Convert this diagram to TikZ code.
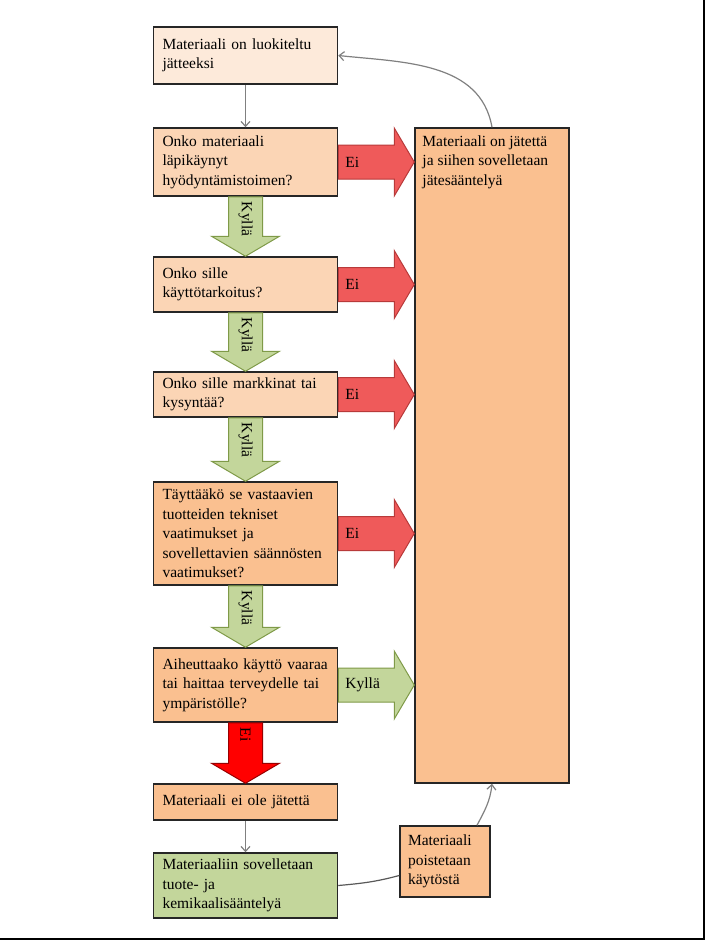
\documentclass[tikz,border=0pt]{standalone}
\usepackage{fontspec}
\setmainfont{Liberation Serif}
\usetikzlibrary{arrows.meta,calc}

\definecolor{persikka1}{HTML}{FDEADA}
\definecolor{persikka2}{HTML}{FBD5B5}
\definecolor{persikka3}{HTML}{FAC090}
\definecolor{vihrea}{HTML}{C3D69B}
\definecolor{vihreareuna}{HTML}{7F9A48}
\definecolor{punainen}{HTML}{EF5A5A}
\definecolor{punareuna}{HTML}{B83A3A}

\newcommand{\laatikkofontti}{\fontsize{15.5}{19.5}\selectfont}

% vaakanuoli: tyyli, lahto, kohde, teksti
\newcommand{\vaakanuoli}[4]{%
	\path (#2.east) coordinate (n0) (#3.west |- #2.east) coordinate (n1);
	\draw[#1] ([yshift=17pt]n0) -- ([xshift=-20pt,yshift=17pt]n1)
	-- ([xshift=-20pt,yshift=34pt]n1) -- (n1)
	-- ([xshift=-20pt,yshift=-34pt]n1) -- ([xshift=-20pt,yshift=-17pt]n1)
	-- ([yshift=-17pt]n0) -- cycle;
	\node[nuoliteksti, anchor=west] at ([xshift=7pt]n0) {#4};}

% pystynuoli: tyyli, lahto, kohde, teksti
\newcommand{\pystynuoli}[4]{%
	\path (#2.south) coordinate (n0) (#3.north) coordinate (n1);
	\draw[#1] ([xshift=-17pt]n0) -- ([xshift=-17pt,yshift=20pt]n1)
	-- ([xshift=-34pt,yshift=20pt]n1) -- (n1)
	-- ([xshift=34pt,yshift=20pt]n1) -- ([xshift=17pt,yshift=20pt]n1)
	-- ([xshift=17pt]n0) -- cycle;
	\node[nuoliteksti, rotate=-90, anchor=west] at ([yshift=-5pt]n0) {#4};}

\begin{document}
\begin{tikzpicture}[
			x=1pt, y=1pt,
			laatikko/.style={draw=black!85, line width=1.5pt,
				minimum width=184pt, text width=166pt,
				inner xsep=9pt, inner ysep=3pt, align=left,
				font=\laatikkofontti},
			nuoliteksti/.style={inner sep=0pt, font=\laatikkofontti},
			kylla/.style={fill=vihrea, draw=vihreareuna, line width=1pt},
			einuoli/.style={fill=punainen, draw=punareuna, line width=1pt},
			einuolipysty/.style={fill=red, draw=red!60!black, line width=1pt},
			ohut/.style={draw=gray, line width=1.2pt,
				-{Straight Barb[length=5pt,width=9pt]}},
			ohutviiva/.style={draw=gray!70!black, line width=1.2pt},
			kehys/.style={line width=2pt, black},
			]
			\useasboundingbox (0,0) rectangle (705,-940);
			
			% kehys
			\draw[kehys] (704,0) -- (704,-939) -- (0,-939);
			
			% vasen sarake
			\node[laatikko, fill=persikka1, minimum height=57pt] (luokiteltu)
			at (245.5,-55.5) {Materiaali on luokiteltu\\jätteeksi};
			\node[laatikko, fill=persikka2, minimum height=68pt] (hyodynt)
			at (245.5,-162) {Onko materiaali\\läpikäynyt\\hyödyntämistoimen?};
			\node[laatikko, fill=persikka2, minimum height=55pt] (kaytto)
			at (245.5,-284.5) {Onko sille\\käyttötarkoitus?};
			\node[laatikko, fill=persikka2, minimum height=45pt] (markkinat)
			at (245.5,-394.5) {Onko sille markkinat tai\\kysyntää?};
			\node[laatikko, fill=persikka3, minimum height=103pt] (tekniset)
			at (245.5,-533.5) {Täyttääkö se vastaavien\\tuotteiden tekniset\\vaatimukset ja\\sovellettavien säännösten\\vaatimukset?};
			\node[laatikko, fill=persikka3, minimum height=74pt] (vaara)
			at (245.5,-685) {Aiheuttaako käyttö vaaraa\\tai haittaa terveydelle tai\\ympäristölle?};
			\node[laatikko, fill=persikka3, minimum height=36pt] (eijate)
			at (245.5,-802) {Materiaali ei ole jätettä};
			\node[laatikko, fill=vihrea, minimum height=65pt] (tuote)
			at (245.5,-885.5) {Materiaaliin sovelletaan\\tuote- ja\\kemikaalisääntelyä};
			
			% oikea sarake
			\node[laatikko, fill=persikka3, minimum width=154pt, text width=136pt,
			minimum height=655pt] (jate) at (492,-455.5) {};
			\node[nuoliteksti, anchor=north west, align=left]
			at ([xshift=8pt,yshift=-8pt]jate.north west)
			{Materiaali on jätettä\\ja siihen sovelletaan\\jätesääntelyä};
			\node[laatikko, fill=persikka3, minimum width=90pt, text width=74pt,
			inner xsep=8pt, minimum height=71pt] (poisto)
			at (445,-861.5) {Materiaali\\poistetaan\\käytöstä};
			
			% ohuet nuolet
			\draw[ohut] (luokiteltu.south) -- (hyodynt.north);
			\draw[ohut] (eijate.south) -- (tuote.north);
			\draw[ohut] (jate.north) to[out=100, in=-6] (luokiteltu.east);
			\draw[ohutviiva] (tuote.east) to[out=5, in=195]
			([yshift=-14pt]poisto.west);
			\draw[ohut] ([xshift=32pt]poisto.north) to[out=62, in=-96] (jate.south);
			
			% ei-nuolet
			\vaakanuoli{einuoli}{hyodynt}{jate}{Ei}
			\vaakanuoli{einuoli}{kaytto}{jate}{Ei}
			\vaakanuoli{einuoli}{markkinat}{jate}{Ei}
			\vaakanuoli{einuoli}{tekniset}{jate}{Ei}
			\vaakanuoli{kylla}{vaara}{jate}{Kyllä}
			
			% kyllä-nuolet
			\pystynuoli{kylla}{hyodynt}{kaytto}{Kyllä}
			\pystynuoli{kylla}{kaytto}{markkinat}{Kyllä}
			\pystynuoli{kylla}{markkinat}{tekniset}{Kyllä}
			\pystynuoli{kylla}{tekniset}{vaara}{Kyllä}
			\pystynuoli{einuolipysty}{vaara}{eijate}{Ei}
			
\end{tikzpicture}
\end{document}
